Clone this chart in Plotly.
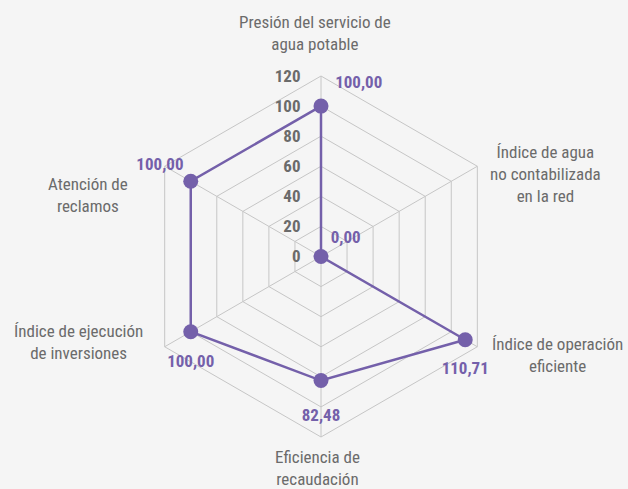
import plotly.graph_objects as go

categories = [
    "Presión del servicio de<br>agua potable",
    "Índice de agua<br>no contabilizada<br>en la red",
    "Índice de operación<br>eficiente",
    "Eficiencia de<br>recaudación",
    "Índice de ejecución<br>de inversiones",
    "Atención de<br>reclamos",
]
values = [100.00, 0.00, 110.71, 82.48, 100.00, 100.00]
value_labels = ["100,00", "0,00", "110,71", "82,48", "100,00", "100,00"]
label_positions = ["top right", "top right", "bottom center", "bottom center", "bottom center", "top left"]
label_gap = [21, 14, 32, 43, 34, 10]   # invisible marker size used to space each value label
radial_ticks = [0, 20, 40, 60, 80, 100, 120]

# where each category caption sits on the page (paper fractions)
caption_x = [315 / 628, 545 / 628, 557 / 628, 317 / 628, 78 / 628, 88 / 628]
caption_y = [1 - 32.5 / 489, 1 - 174 / 489, 1 - 355 / 489, 1 - 468 / 489, 1 - 342 / 489, 1 - 195 / 489]

PURPLE = "#7460aa"
GRAY = "#6b6b6b"
GRID = "#c6c6c6"
BG = "#f5f5f5"
FONT = "Roboto Condensed, Roboto, sans-serif"

fig = go.Figure()
# polygon line on the hexagonal grid
fig.add_trace(go.Scatterpolar(
    r=values + [values[0]],
    theta=categories + [categories[0]],
    mode="lines",
    line=dict(color=PURPLE, width=2.5),
    hoverinfo="skip",
    showlegend=False,
    subplot="polar",
))
# markers and value labels on an overlaid (circular, invisible) polar so the r=0 point is kept
fig.add_trace(go.Scatterpolar(
    r=values,
    theta=categories,
    mode="markers",
    marker=dict(color=PURPLE, size=15),
    cliponaxis=False,
    hoverinfo="skip",
    showlegend=False,
    subplot="polar2",
))
fig.add_trace(go.Scatterpolar(
    r=values,
    theta=categories,
    mode="markers+text",
    marker=dict(size=label_gap, opacity=0, color=PURPLE),
    text=value_labels,
    textposition=label_positions,
    textfont=dict(family=FONT, size=17, color=PURPLE, weight="bold"),
    cliponaxis=False,
    hoverinfo="skip",
    showlegend=False,
    subplot="polar2",
))

for txt, ax, ay in zip(categories, caption_x, caption_y):
    fig.add_annotation(
        x=ax, y=ay, xref="paper", yref="paper",
        xanchor="center", yanchor="middle", align="center",
        text=txt, showarrow=False,
        font=dict(family=FONT, size=17, color=GRAY),
    )

W, H = 628, 489
cx, cy, R = 321, 256.5, 180.5
domain = dict(x=[(cx - R) / W, (cx + R) / W], y=[(H - cy - R) / H, (H - cy + R) / H])
fig.update_layout(
    width=W, height=H,
    margin=dict(l=0, r=0, t=0, b=0),
    paper_bgcolor=BG,
    plot_bgcolor=BG,
    font=dict(family=FONT, color=GRAY),
    polar=dict(
        bgcolor=BG,
        gridshape="linear",
        domain=domain,
        angularaxis=dict(
            rotation=90,
            direction="clockwise",
            gridcolor=GRID,
            gridwidth=1,
            linecolor=GRID,
            linewidth=1,
            showline=True,
            showticklabels=False,
            ticks="",
        ),
        radialaxis=dict(
            range=[0, 120],
            tickvals=radial_ticks,
            angle=90,
            tickangle=90,
            side="counterclockwise",
            showline=False,
            gridcolor=GRID,
            gridwidth=1,
            ticks="outside",
            ticklen=14,
            tickcolor="rgba(0,0,0,0)",
            tickfont=dict(family=FONT, size=17, color=GRAY, weight="bold"),
        ),
    ),
    polar2=dict(
        bgcolor="rgba(0,0,0,0)",
        gridshape="circular",
        domain=domain,
        angularaxis=dict(
            rotation=90,
            direction="clockwise",
            showgrid=False,
            showline=False,
            showticklabels=False,
            ticks="",
        ),
        radialaxis=dict(
            range=[0, 120],
            visible=False,
        ),
    ),
)

fig.write_html(
    "out.html",
    config={"displayModeBar": False},
    post_script="document.body.style.margin='0';document.body.style.background='#f5f5f5';",
)
